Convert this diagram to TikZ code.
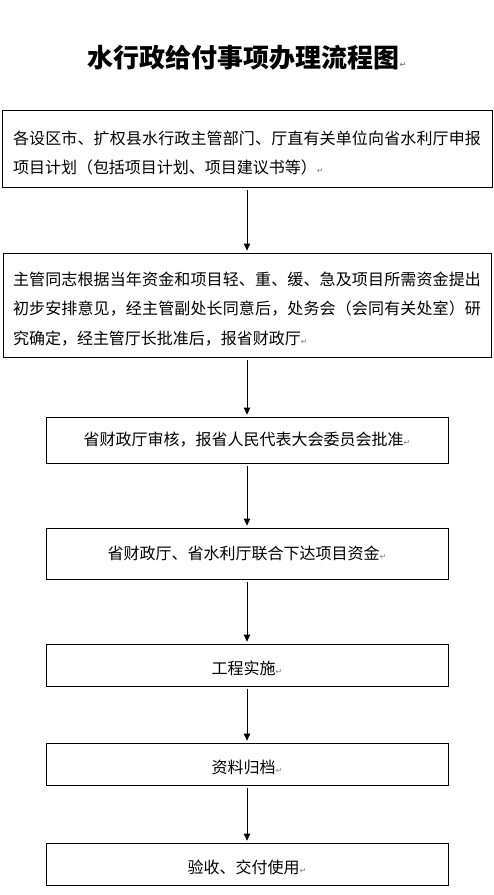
\documentclass[tikz,border=0pt]{standalone}
\usepackage{fontspec}
\newfontfamily\cjk{Noto Sans CJK SC}
\newfontfamily\symfont{DejaVu Sans}
\usetikzlibrary{arrows.meta}
% grey paragraph mark after each paragraph
\newcommand\retmark{{\color{gray}\symfont\fontsize{8}{8}\selectfont ↵}}
% spread one line of characters over the full text width
\long\def\spreadgobble#1{}
\long\def\spreaduse#1{#1}
\def\spreadgo#1#2{#1\ifx\relax#2\expandafter\spreadgobble\else\hfil\expandafter\spreaduse\fi{\spreadgo#2}}
\newcommand\spreadline[1]{\makebox[468pt][s]{\spreadgo#1\relax}}
% push the text a little below the middle of its box
\newcommand\lowstrut[1]{\rule{0pt}{#1}}
\begin{document}
\begin{tikzpicture}
    [x=1pt, y=-1pt,
    TitleNode/.style={font=\cjk\bfseries\fontsize{26}{26}\selectfont, inner sep=0pt},
    WideNode/.style={draw=black, line width=0.8pt, text width=468pt, align=left, inner ysep=0pt,
        font=\cjk\fontsize{16}{29.5}\selectfont},
    StepNode/.style={draw=black, line width=0.8pt, align=center, inner sep=0pt,
        minimum width=402pt, font=\cjk\fontsize{16}{16}\selectfont},
    FlowArrow/.style={line width=0.8pt, -{Triangle[width=6.5pt,length=7pt]},
        shorten <=3pt, shorten >=2pt}]
     \useasboundingbox (0,0) rectangle (494,895);
     \node[TitleNode] (TitleLabel) at (247,58){水行政给付事项办理流程图\retmark};
     \node[WideNode, inner xsep=11pt, minimum height=77pt] (n1) at (247,148.5)
        {\lowstrut{23pt}\spreadline{各设区市、扩权县水行政主管部门、厅直有关单位向省水利厅申报}\\
         项目计划（包括项目计划、项目建议书等）\retmark};
     \node[WideNode, inner xsep=10pt, minimum height=104pt] (n2) at (247,305)
        {\lowstrut{21pt}\spreadline{主管同志根据当年资金和项目轻、重、缓、急及项目所需资金提出}\\
         \spreadline{初步安排意见，经主管副处长同意后，处务会（会同有关处室）研}\\
         究确定，经主管厅长批准后，报省财政厅\retmark};
     \node[StepNode, minimum height=46pt] (n3) at (247,440){省财政厅审核，报省人民代表大会委员会批准\retmark};
     \node[StepNode, minimum height=51pt] (n4) at (247,553.5){省财政厅、省水利厅联合下达项目资金\retmark};
     \node[StepNode, minimum height=42pt] (n5) at (247,665){\lowstrut{20pt}工程实施\retmark};
     \node[StepNode, minimum height=42pt] (n6) at (247,764){\lowstrut{20pt}资料归档\retmark};
     \node[StepNode, minimum height=42pt] (n7) at (247,864){\lowstrut{21pt}验收、交付使用\retmark};
     \draw[FlowArrow] (n1) -- (n2);
     \draw[FlowArrow] (n2) -- (n3);
     \draw[FlowArrow] (n3) -- (n4);
     \draw[FlowArrow] (n4) -- (n5);
     \draw[FlowArrow] (n5) -- (n6);
     \draw[FlowArrow] (n6) -- (n7);
\end{tikzpicture}
\end{document}
